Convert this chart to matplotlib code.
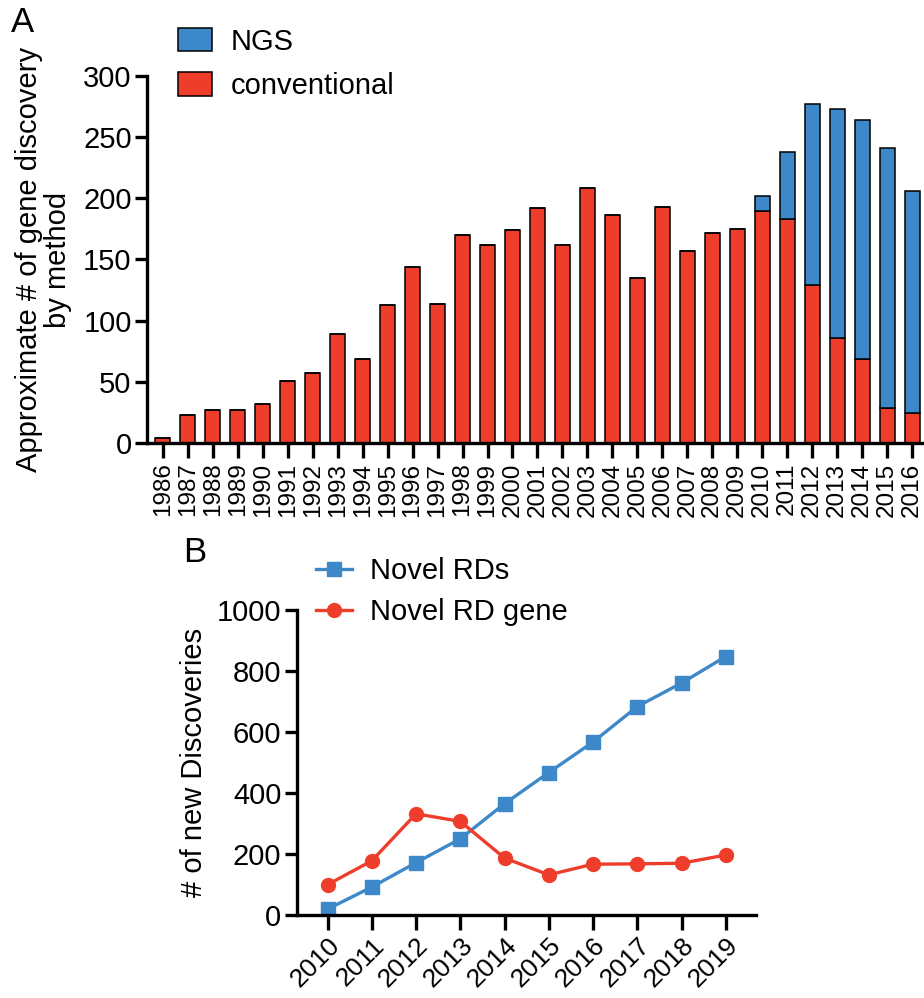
import matplotlib
matplotlib.use("Agg")
import matplotlib.pyplot as plt
from matplotlib.patches import Patch

plt.rcParams['font.family'] = ['Liberation Sans', 'DejaVu Sans']

# Panel A: gene discoveries per year, by method
years_a = list(range(1986, 2017))
conventional = [4, 23, 27, 27, 32, 51, 57, 89, 69, 113, 144, 114, 170, 162, 174,
                192, 162, 208, 186, 135, 193, 157, 172, 175, 190, 183, 129, 86, 69, 29, 25]
ngs = [0] * 24 + [12, 55, 148, 187, 195, 212, 181]

# Panel B: new discoveries per year
years_b = list(range(2010, 2020))
novel_rds = [20, 92, 172, 250, 365, 467, 567, 683, 760, 847]
novel_rd_gene = [100, 178, 332, 307, 187, 132, 167, 168, 170, 197]

RED = '#EE3D2B'
BLUE = '#3D88C9'
LW = 2.4
FS = 21

fig = plt.figure(figsize=(9.24, 9.98), dpi=100)

# ---- panel A ----
ax1 = fig.add_axes([0.159, 0.556, 0.841, 0.368])
ax1.bar(years_a, conventional, width=0.6, color=RED, edgecolor='black', linewidth=1.1)
ax1.bar(years_a, ngs, width=0.6, bottom=conventional, color=BLUE,
        edgecolor='black', linewidth=1.1)
ax1.set_xlim(1985.36, 2016.48)
ax1.set_ylim(0, 300)
ax1.set_yticks(range(0, 301, 50))
ax1.set_xticks(years_a)
ax1.set_xticklabels([str(y) for y in years_a], rotation=90, fontsize=17.5)
ax1.tick_params(axis='y', labelsize=FS, length=9, width=LW, direction='out', pad=2)
ax1.tick_params(axis='x', length=11, width=LW, direction='out', pad=3)
ax1.spines['top'].set_visible(False)
ax1.spines['right'].set_visible(False)
for s in ('left', 'bottom'):
    ax1.spines[s].set_linewidth(LW)
ax1.set_ylabel('Approximate # of gene discovery\nby method', fontsize=FS, labelpad=8,
               linespacing=1.05)

handles_a = [Patch(facecolor=BLUE, edgecolor='black', linewidth=1.1, label='NGS'),
             Patch(facecolor=RED, edgecolor='black', linewidth=1.1, label='conventional')]
fig.legend(handles=handles_a, loc='upper left', bbox_to_anchor=(0.193, 0.972),
           frameon=False, fontsize=FS, handlelength=1.15, handleheight=0.85,
           handletextpad=0.65, labelspacing=0.55, borderaxespad=0, borderpad=0)

fig.text(0.012, 0.977, 'A', fontsize=25, va='center', ha='left')

# ---- panel B ----
ax2 = fig.add_axes([0.321, 0.083, 0.497, 0.306])
ax2.plot(years_b, novel_rds, color=BLUE, marker='s', markersize=10, linewidth=LW,
         label='Novel RDs')
ax2.plot(years_b, novel_rd_gene, color=RED, marker='o', markersize=10, linewidth=LW,
         label='Novel RD gene')
ax2.set_xlim(2009.3, 2019.68)
ax2.set_ylim(0, 1000)
ax2.set_yticks(range(0, 1001, 200))
ax2.set_xticks(years_b)
ax2.set_xticklabels([str(y) for y in years_b], rotation=45, ha='right',
                    rotation_mode='anchor', fontsize=19)
ax2.tick_params(axis='y', labelsize=FS, length=9, width=LW, direction='out', pad=2)
ax2.tick_params(axis='x', length=11, width=LW, direction='out', pad=2)
ax2.spines['top'].set_visible(False)
ax2.spines['right'].set_visible(False)
for s in ('left', 'bottom'):
    ax2.spines[s].set_linewidth(LW)
ax2.set_ylabel('# of new Discoveries', fontsize=FS, labelpad=6)

ax2.legend(loc='upper left', bbox_to_anchor=(0.342, 0.442), bbox_transform=fig.transFigure,
           frameon=False, fontsize=FS, handlelength=1.25, handletextpad=0.6,
           labelspacing=0.45, borderaxespad=0, borderpad=0)

fig.text(0.198, 0.446, 'B', fontsize=25, va='center', ha='left')

fig.savefig('out.png', dpi=100)
